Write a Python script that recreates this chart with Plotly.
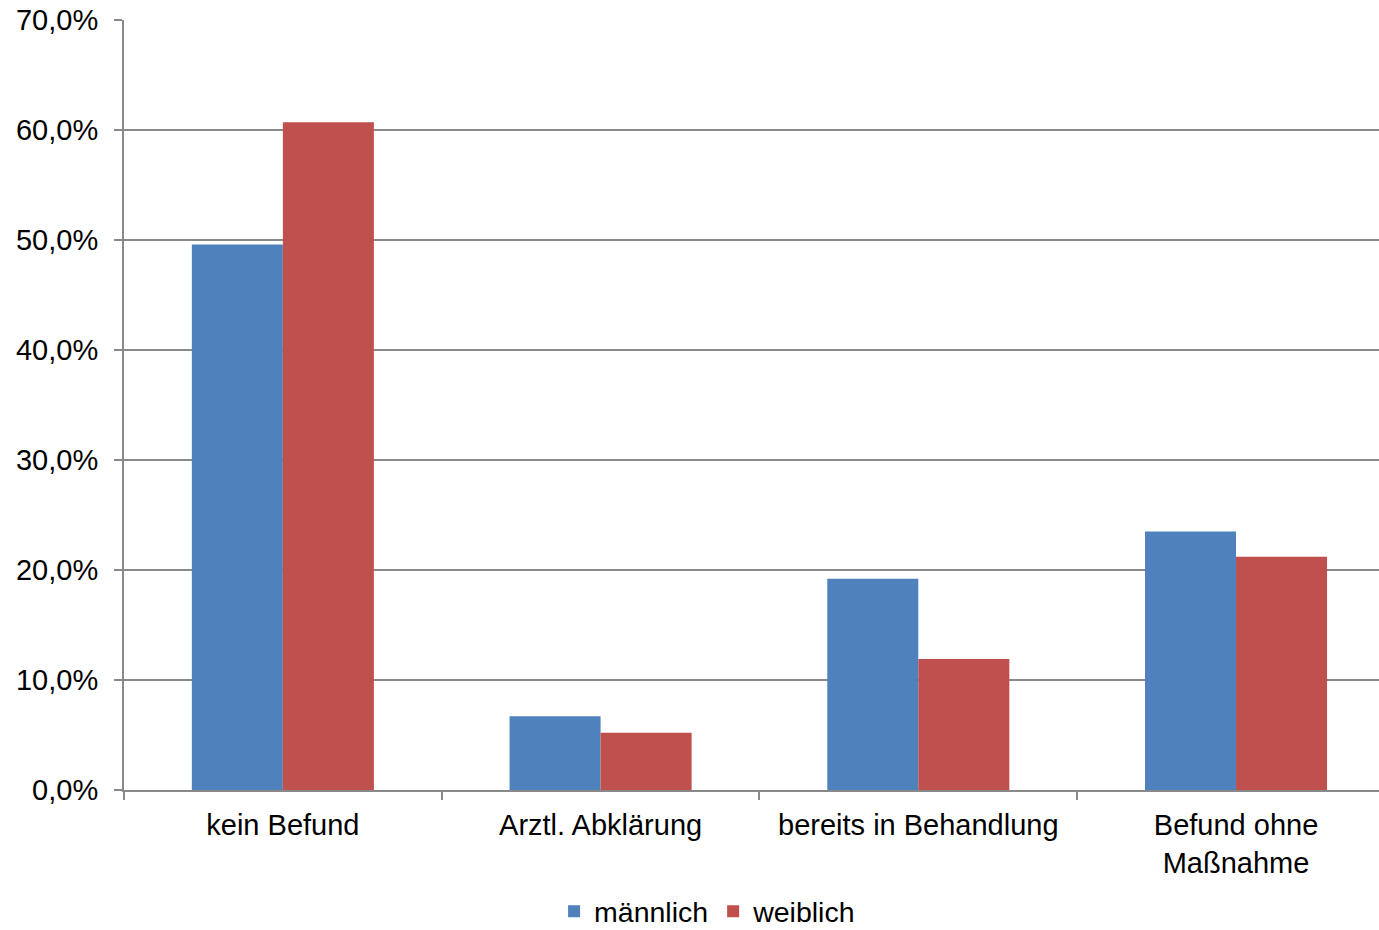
import plotly.graph_objects as go

categories = ["kein Befund", "Arztl. Abklärung", "bereits in Behandlung", "Befund ohne<br>Maßnahme"]
maennlich = [0.496, 0.067, 0.192, 0.235]
weiblich = [0.607, 0.052, 0.119, 0.212]
y_ticks = [0.0, 0.1, 0.2, 0.3, 0.4, 0.5, 0.6, 0.7]

FONT = "Liberation Sans, Arial, sans-serif"
GRID = "#898989"

fig = go.Figure()
fig.add_trace(go.Bar(name="männlich", x=categories, y=maennlich,
                     marker=dict(color="#4F81BD", line=dict(width=0))))
fig.add_trace(go.Bar(name="weiblich", x=categories, y=weiblich,
                     marker=dict(color="#C0504D", line=dict(width=0))))

fig.update_layout(
    width=1379, height=930,
    margin=dict(l=124, r=0, t=20, b=140, autoexpand=False),
    paper_bgcolor="white", plot_bgcolor="white",
    separators=",.",
    barmode="group", bargap=0.427, bargroupgap=0,
    font=dict(family=FONT, size=29, color="black"),
    showlegend=True,
    legend=dict(orientation="h", x=0.465, xanchor="center", y=-0.158, yanchor="middle",
                font=dict(size=28.5), itemsizing="constant", bgcolor="rgba(0,0,0,0)"),
)

fig.update_xaxes(
    range=[-0.5, 3.45], showgrid=False, zeroline=False, automargin=False,
    showline=True, linecolor=GRID, linewidth=2,
    ticks="outside", tickson="boundaries", ticklen=8, tickcolor=GRID, tickwidth=2,
    ticklabelstandoff=8, tickfont=dict(size=29),
)
fig.update_yaxes(
    range=[0, 0.7], tickvals=y_ticks, tickformat=".1%", automargin=False,
    showgrid=True, gridcolor=GRID, gridwidth=1.5, zeroline=False,
    showline=True, linecolor=GRID, linewidth=2,
    ticks="outside", ticklen=8, tickcolor=GRID, tickwidth=2,
    ticklabelstandoff=10, tickfont=dict(size=29),
)

fig.write_html("out.html")
